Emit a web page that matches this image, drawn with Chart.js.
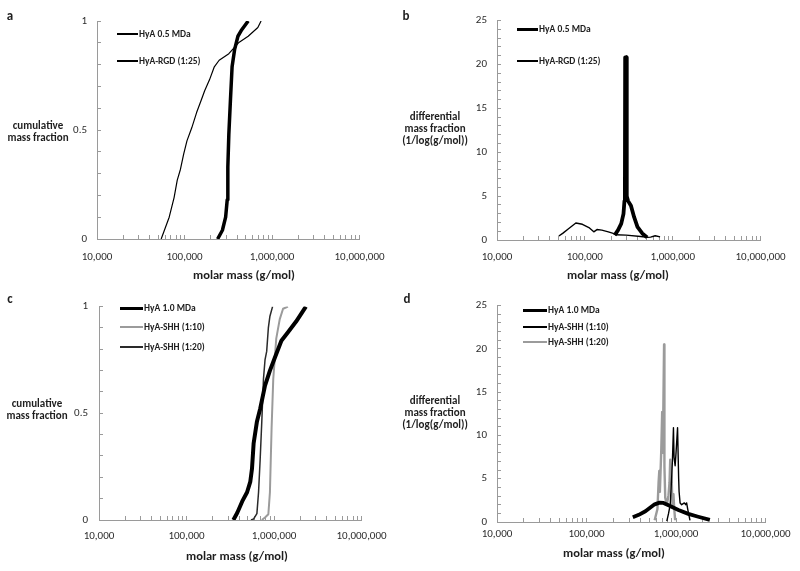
<!DOCTYPE html>
<html>
<head>
<meta charset="utf-8">
<script src="https://cdn.jsdelivr.net/npm/chart.js@4.4.1/dist/chart.umd.min.js"></script>
<style>
  html, body { margin: 0; padding: 0; background: #fff; }
  body { width: 800px; height: 571px; position: relative; overflow: hidden; font-family: Carlito, Lato, "Open Sans", sans-serif; }
  canvas { position: absolute; }
  .txt { position: absolute; color: #1e1e1e; font-weight: bold; white-space: nowrap; }
  .ctr { transform: translate(-50%, -50%); text-align: center; }
  .lg { position: absolute; }
</style>
</head>
<body>
<canvas id="ca" width="400" height="285" style="left:0;top:0"></canvas>
<canvas id="cb" width="400" height="285" style="left:400px;top:0"></canvas>
<canvas id="cc" width="400" height="286" style="left:0;top:285px"></canvas>
<canvas id="cd" width="400" height="286" style="left:400px;top:285px"></canvas>
<div id="overlay"></div>
<script>
// ---------- axis ticks ----------
const xTickValues = [10000, 20000, 30000, 40000, 50000, 60000, 70000, 80000, 90000,
  100000, 200000, 300000, 400000, 500000, 600000, 700000, 800000, 900000,
  1000000, 2000000, 3000000, 4000000, 5000000, 6000000, 7000000, 8000000, 9000000, 10000000];
const xTickLabels = [10000, 100000, 1000000, 10000000];
const yCumTicks = [0, 0.1, 0.2, 0.3, 0.4, 0.5, 0.6, 0.7, 0.8, 0.9, 1];
const yCumLabels = [0, 0.5, 1];
const yDiffTicks = [0, 1, 2, 3, 4, 5, 6, 7, 8, 9, 10, 11, 12, 13, 14, 15, 16, 17, 18, 19, 20, 21, 22, 23, 24, 25];
const yDiffLabels = [0, 5, 10, 15, 20, 25];

// ---------- panel a: cumulative, HyA 0.5 MDa vs HyA-RGD ----------
const aHyA05Mass = [238800, 271000, 295000, 307600, 312600, 320900, 335000, 349600, 374000, 407600, 451000, 533800];
const aHyA05Frac = [0, 0.04, 0.10, 0.18, 0.33, 0.48, 0.64, 0.79, 0.87, 0.93, 0.96, 1.0];
const aRGDMass = [54100, 58900, 66800, 76000, 82600, 89900, 97900, 106600, 121000, 137400, 156200, 169900, 192900, 219000, 248800, 320900, 414000, 533800, 688500, 749400];
const aRGDFrac = [0, 0.04, 0.10, 0.19, 0.27, 0.32, 0.39, 0.45, 0.51, 0.58, 0.64, 0.68, 0.73, 0.79, 0.82, 0.85, 0.90, 0.93, 0.97, 1.0];

// ---------- panel b: differential, HyA 0.5 MDa vs HyA-RGD ----------
const bHyA05Mass = [218900, 238600, 259600, 275200, 282400, 285900, 287600, 298700, 300000, 310000, 335000, 364000, 397000, 451000, 512000];
const bHyA05Diff = [0.56, 1.12, 1.86, 2.98, 4.46, 6.7, 20.8, 20.8, 5.0, 4.46, 3.9, 2.6, 1.49, 0.75, 0.3];
const bRGDMass = [50600, 56400, 64100, 79000, 93800, 111200, 126400, 137400, 156100, 185000, 210200, 222900, 295000, 431800, 516000, 560000, 632000, 718000];
const bRGDDiff = [0.45, 0.78, 1.23, 1.93, 1.79, 1.42, 0.93, 1.19, 1.12, 0.93, 0.75, 0.6, 0.55, 0.4, 0.3, 0.33, 0.48, 0.35];

// ---------- panel c: cumulative, HyA 1.0 MDa vs HyA-SHH ----------
const cHyA10Mass = [342900, 380300, 432600, 492000, 535800, 559700, 584800, 636900, 693400, 788600, 897400, 1021000, 1213000, 1443000, 1787000, 2311000];
const cHyA10Frac = [0, 0.034, 0.087, 0.13, 0.18, 0.24, 0.36, 0.46, 0.52, 0.63, 0.70, 0.76, 0.84, 0.88, 0.93, 1.0];
const cSHH10Mass = [724500, 788600, 861000, 897400, 937600, 979600, 1021000, 1060000, 1161000, 1268000, 1443000];
const cSHH10Frac = [0, 0.012, 0.027, 0.13, 0.43, 0.66, 0.76, 0.85, 0.94, 0.99, 1.0];
const cSHH20Mass = [545000, 584800, 636900, 665300, 693400, 724500, 757000, 788600, 824200, 861000, 897400, 962100];
const cSHH20Frac = [0, 0.005, 0.03, 0.13, 0.28, 0.46, 0.66, 0.75, 0.79, 0.90, 0.955, 1.0];

// ---------- panel d: differential, HyA 1.0 MDa vs HyA-SHH ----------
const dHyA10Mass = [329000, 383500, 455000, 521000, 577000, 655000, 725000, 824000, 1063000, 1372000, 1770000, 2387000];
const dHyA10Diff = [0.55, 0.83, 1.24, 1.7, 2.04, 2.24, 2.2, 1.93, 1.38, 0.94, 0.61, 0.25];
const dSHH10Mass = [788900, 824000, 861000, 896100, 912000, 935900, 950000, 977000, 1000000, 1040000, 1070000, 1082000, 1110000, 1156000, 1239000, 1280000, 1313000, 1350000, 1432000];
const dSHH10Diff = [0.1, 0.96, 2.0, 5.4, 7.2, 10.9, 7.5, 6.5, 8.0, 10.9, 5.0, 3.5, 2.2, 2.0, 2.2, 2.0, 2.2, 1.5, 0.2];
const dSHH20Mass = [576800, 620000, 638500, 650200, 660000, 684100, 700000, 712000, 735000, 742000, 757500, 788900, 824000, 845900, 861000, 896100, 912000, 935900, 952500, 977000];
const dSHH20Diff = [0.2, 1.5, 4.6, 5.9, 3.5, 8.3, 12.7, 8.0, 20.5, 6.4, 2.8, 2.0, 3.1, 4.6, 7.2, 4.6, 1.7, 3.2, 1.7, 0.2];

// ---------- styling ----------
const FONT = 'Carlito, Lato, "Open Sans", sans-serif';
const AXIS = '#9a9a9a';
const TICKTXT = '#2b2b2b';
const TL = -4;
const TICK_SIZE = 11;
const BLACK = '#000', GRAY = '#9b9b9b', DARK = '#2a2a2a';

function pts(ms, vs) { return ms.map((m, i) => ({ x: m, y: vs[i] })); }
function ds(label, ms, vs, color, width, legendWidth) {
  return { label, data: pts(ms, vs), borderColor: color, borderWidth: width, legendWidth, fill: false };
}

function makeChart(id, g, yTicks, yLabels, yMax, datasets) {
  const labelLH = TICK_SIZE * 1.2;
  return new Chart(document.getElementById(id), {
    type: 'line',
    data: { datasets },
    options: {
      responsive: false, animation: false, events: [],
      devicePixelRatio: window.devicePixelRatio || 1,
      layout: { padding: { left: 0, top: g.t, right: g.w - g.r, bottom: 0 } },
      plugins: { legend: { display: false }, tooltip: { enabled: false }, title: { display: false } },
      elements: { point: { radius: 0 }, line: { tension: 0, borderJoinStyle: 'round', borderCapStyle: 'butt' } },
      scales: {
        x: {
          type: 'logarithmic', min: 10000, max: 10000000,
          border: { display: true, color: AXIS, width: 1 },
          grid: { display: true, drawOnChartArea: false, drawTicks: true, tickLength: TL, tickColor: AXIS },
          ticks: {
            autoSkip: false, maxRotation: 0, minRotation: 0,
            padding: g.xLabOff - TL - labelLH / 2,
            color: TICKTXT, font: { family: FONT, size: TICK_SIZE, lineHeight: 1.2 },
            callback: v => xTickLabels.includes(v) ? v.toLocaleString('en-US') : ''
          },
          afterBuildTicks: s => { s.ticks = xTickValues.map(v => ({ value: v })); },
          afterFit: s => { s.height = g.h - g.b; }
        },
        y: {
          type: 'linear', min: 0, max: yMax,
          border: { display: true, color: AXIS, width: 1 },
          grid: { display: true, drawOnChartArea: false, drawTicks: true, tickLength: TL, tickColor: AXIS },
          ticks: {
            autoSkip: false,
            padding: g.yLabOff - TL,
            color: TICKTXT, font: { family: FONT, size: TICK_SIZE, lineHeight: 1.2 },
            callback: v => yLabels.includes(v) ? String(v) : ''
          },
          afterBuildTicks: s => { s.ticks = yTicks.map(v => ({ value: v })); },
          afterFit: s => { s.width = g.l; }
        }
      }
    }
  });
}

const charts = [
  { id: 'ca', g: { w: 400, h: 285, l: 97, t: 21, r: 368, b: 239, xLabOff: 18, yLabOff: 10 },
    yT: yCumTicks, yL: yCumLabels, yMax: 1,
    sets: [ds('HyA 0.5 MDa', aHyA05Mass, aHyA05Frac, BLACK, 3.5, 2.5),
           ds('HyA-RGD (1:25)', aRGDMass, aRGDFrac, BLACK, 1.2, 1.5)],
    letter: ['a', 10, 15], ytitle: [['cumulative', 'mass fraction'], 38, 125], xtitle: [244, 275],
    legend: { x1: 117, x2: 138, ys: [34, 61] } },
  { id: 'cb', g: { w: 400, h: 285, l: 97, t: 16, r: 368, b: 240, xLabOff: 17, yLabOff: 10 },
    yT: yDiffTicks, yL: yDiffLabels, yMax: 25,
    sets: [ds('HyA 0.5 MDa', bHyA05Mass, bHyA05Diff, BLACK, 3.8, 3),
           ds('HyA-RGD (1:25)', bRGDMass, bRGDDiff, BLACK, 1.4, 1.5)],
    letter: ['b', 406, 15], ytitle: [['differential', 'mass fraction', '(1/log(g/mol))'], 435, 116], xtitle: [618, 275],
    legend: { x1: 517, x2: 538, ys: [29, 61] } },
  { id: 'cc', g: { w: 400, h: 286, l: 99, t: 12, r: 367, b: 235, xLabOff: 16, yLabOff: 11 },
    yT: yCumTicks, yL: yCumLabels, yMax: 1,
    sets: [ds('HyA 1.0 MDa', cHyA10Mass, cHyA10Frac, BLACK, 4, 3),
           ds('HyA-SHH (1:10)', cSHH10Mass, cSHH10Frac, GRAY, 2, 2.2),
           ds('HyA-SHH (1:20)', cSHH20Mass, cSHH20Frac, DARK, 1.5, 2.2)],
    letter: ['c', 10, 298], ytitle: [['cumulative', 'mass fraction'], 37, 403], xtitle: [237, 556],
    legend: { x1: 120, x2: 143, ys: [308, 327, 347] } },
  { id: 'cd', g: { w: 400, h: 286, l: 97, t: 10, r: 368, b: 237, xLabOff: 12, yLabOff: 10 },
    yT: yDiffTicks, yL: yDiffLabels, yMax: 25,
    sets: [ds('HyA 1.0 MDa', dHyA10Mass, dHyA10Diff, BLACK, 3.8, 3),
           ds('HyA-SHH (1:10)', dSHH10Mass, dSHH10Diff, BLACK, 1.4, 1.5),
           ds('HyA-SHH (1:20)', dSHH20Mass, dSHH20Diff, GRAY, 2.4, 2.5)],
    letter: ['d', 407, 298], ytitle: [['differential', 'mass fraction', '(1/log(g/mol))'], 435, 400], xtitle: [614, 553],
    legend: { x1: 523, x2: 547, ys: [310, 327, 342] } }
];

const overlay = document.getElementById('overlay');
function addText(txt, cx, cy, size) {
  const d = document.createElement('div');
  d.className = 'txt ctr';
  d.textContent = txt;
  d.style.left = cx + 'px';
  d.style.top = cy + 'px';
  d.style.fontSize = size + 'px';
  d.style.lineHeight = '1';
  overlay.appendChild(d);
}

charts.forEach(c => {
  makeChart(c.id, c.g, c.yT, c.yL, c.yMax, c.sets);
  addText(c.letter[0], c.letter[1], c.letter[2], 13);
  c.ytitle[0].forEach((line, i) => addText(line, c.ytitle[1], c.ytitle[2] + i * 12, 11));
  addText('molar mass (g/mol)', c.xtitle[0], c.xtitle[1], 12.5);
  c.sets.forEach((s, i) => {
    const y = c.legend.ys[i];
    const ln = document.createElement('div');
    ln.className = 'lg';
    ln.style.left = c.legend.x1 + 'px';
    ln.style.width = (c.legend.x2 - c.legend.x1) + 'px';
    ln.style.top = (y - s.legendWidth / 2) + 'px';
    ln.style.height = s.legendWidth + 'px';
    ln.style.background = s.borderColor;
    overlay.appendChild(ln);
    const t = document.createElement('div');
    t.className = 'txt';
    t.textContent = s.label;
    t.style.left = (c.legend.x2 + 1) + 'px';
    t.style.top = (y - 6) + 'px';
    t.style.fontSize = '9.5px';
    t.style.lineHeight = '12px';
    overlay.appendChild(t);
  });
});
</script>
</body>
</html>
